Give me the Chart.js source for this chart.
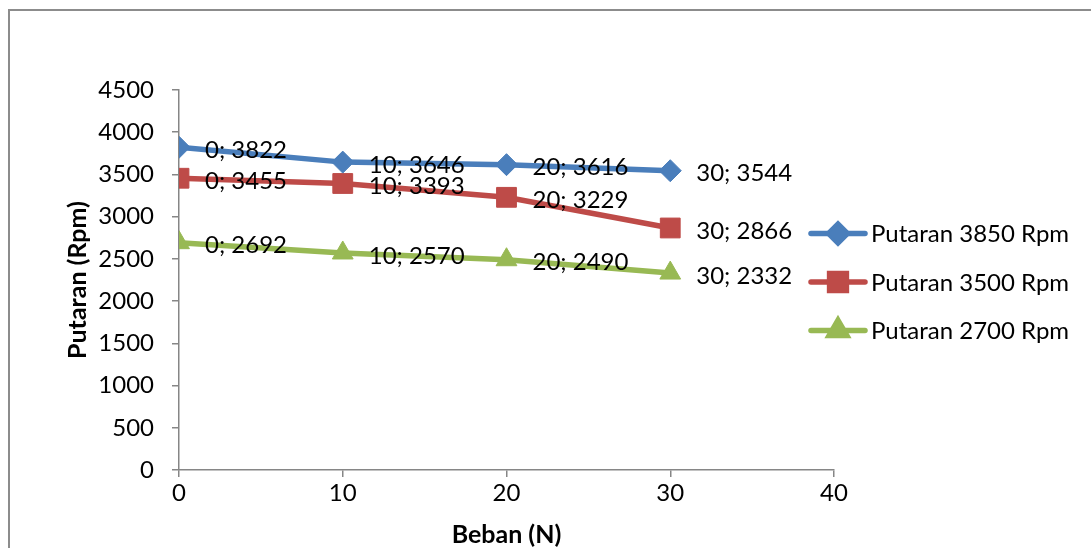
<!DOCTYPE html>
<html>
<head>
<meta charset="utf-8">
<script src="https://cdn.jsdelivr.net/npm/chart.js@4/dist/chart.umd.min.js"></script>
<style>
  html, body { margin: 0; padding: 0; background: #fff; }
  #wrap { width: 1091px; height: 548px; position: relative; }
</style>
</head>
<body>
<div id="wrap"><canvas id="putaranChart" width="1091" height="548"></canvas></div>
<script>
// beban (N) on the x axis
const beban = [0, 10, 20, 30];
const putaran3850 = [3822, 3646, 3616, 3544];
const putaran3500 = [3455, 3393, 3229, 2866];
const putaran2700 = [2692, 2570, 2490, 2332];
const seriesNames = ['Putaran 3850 Rpm', 'Putaran 3500 Rpm', 'Putaran 2700 Rpm'];
const xTicks = [0, 10, 20, 30, 40];
const yTicks = [0, 500, 1000, 1500, 2000, 2500, 3000, 3500, 4000, 4500];

const FONT = 'Lato, "Open Sans", sans-serif';
const axisGray = '#868686';

const toPoints = (vals) => vals.map((v, i) => ({ x: beban[i], y: v }));

const makeSet = (label, vals, color, style, radius) => ({
  label,
  data: toPoints(vals),
  borderColor: color,
  backgroundColor: color,
  borderWidth: 5.5,
  pointStyle: style,
  pointRadius: radius,
  pointHoverRadius: radius,
  pointBorderWidth: 1,
  pointBorderColor: color,
  pointBackgroundColor: color,
  tension: 0,
});

const datasets = [
  makeSet(seriesNames[0], putaran3850, '#4A7EBB', 'rectRot', 11),
  makeSet(seriesNames[1], putaran3500, '#BE4B48', 'rect', 14),
  makeSet(seriesNames[2], putaran2700, '#98B954', 'triangle', 12),
];

// outer frame like the excel chart border
const frame = {
  id: 'frame',
  beforeDraw(chart) {
    const ctx = chart.ctx;
    ctx.save();
    ctx.strokeStyle = '#8c8c8c';
    ctx.lineWidth = 2;
    ctx.strokeRect(9, 10, chart.width + 20, chart.height + 20);
    ctx.restore();
  }
};

// "x; y" labels right of each point
const pointLabels = {
  id: 'pointLabels',
  afterDatasetsDraw(chart) {
    const ctx = chart.ctx;
    ctx.save();
    ctx.font = '24px ' + FONT;
    ctx.fillStyle = '#000';
    ctx.textAlign = 'left';
    ctx.textBaseline = 'middle';
    chart.data.datasets.forEach((ds, di) => {
      chart.getDatasetMeta(di).data.forEach((pt, i) => {
        const d = ds.data[i];
        ctx.fillText(d.x + '; ' + d.y, pt.x + 26, pt.y + 3);
      });
    });
    ctx.restore();
  }
};

// legend with line + marker, excel style
const lineLegend = {
  id: 'lineLegend',
  afterDraw(chart) {
    const ctx = chart.ctx;
    const area = chart.chartArea;
    const x0 = area.right - 23;
    const midY = (area.top + area.bottom) / 2 + 2;
    ctx.save();
    chart.data.datasets.forEach((ds, i) => {
      const y = midY + (i - 1) * 48.5;
      ctx.strokeStyle = ds.borderColor;
      ctx.lineWidth = 5.5;
      ctx.lineCap = 'round';
      ctx.beginPath();
      ctx.moveTo(x0, y);
      ctx.lineTo(x0 + 54, y);
      ctx.stroke();
      ctx.fillStyle = ds.borderColor;
      Chart.helpers.drawPoint(ctx, {
        pointStyle: ds.pointStyle,
        radius: ds.pointRadius * 0.85,
        borderWidth: 1,
        rotation: 0
      }, x0 + 27, y);
      ctx.fill();
      ctx.fillStyle = '#000';
      ctx.font = '24px ' + FONT;
      ctx.textAlign = 'left';
      ctx.textBaseline = 'middle';
      ctx.fillText(ds.label, x0 + 60, y + 1);
    });
    ctx.restore();
  }
};

new Chart(document.getElementById('putaranChart'), {
  type: 'line',
  data: { datasets },
  plugins: [frame, pointLabels, lineLegend],
  options: {
    responsive: false,
    animation: false,
    layout: { padding: { top: 90, right: 257, left: 0, bottom: 0 } },
    plugins: {
      legend: { display: false },
      tooltip: { enabled: false },
    },
    scales: {
      x: {
        type: 'linear',
        min: 0,
        max: 40,
        afterFit: (s) => { s.height = 78; },
        afterBuildTicks: (s) => { s.ticks = xTicks.map(v => ({ value: v })); },
        ticks: { color: '#000', font: { family: FONT, size: 24 }, padding: 2, callback: (v) => String(v) },
        grid: { drawOnChartArea: false, drawTicks: true, tickLength: 7, color: axisGray, lineWidth: 1.5 },
        border: { color: axisGray, width: 1.5 },
        title: {
          display: true,
          text: 'Beban (N)',
          color: '#000',
          font: { family: FONT, size: 25, weight: 'bold' },
          padding: { top: 0, bottom: -2 }
        }
      },
      y: {
        min: 0,
        max: 4500,
        afterFit: (s) => { s.width = 179; },
        afterBuildTicks: (s) => { s.ticks = yTicks.map(v => ({ value: v })); },
        ticks: { color: '#000', font: { family: FONT, size: 24 }, padding: 18, callback: (v) => String(v) },
        grid: { drawOnChartArea: false, drawTicks: true, tickLength: 7, color: axisGray, lineWidth: 1.5 },
        border: { color: axisGray, width: 1.5 },
        title: {
          display: true,
          text: 'Putaran (Rpm)',
          color: '#000',
          font: { family: FONT, size: 25, weight: 'bold' },
          padding: { top: 63, bottom: 0 }
        }
      }
    }
  }
});
</script>
</body>
</html>
